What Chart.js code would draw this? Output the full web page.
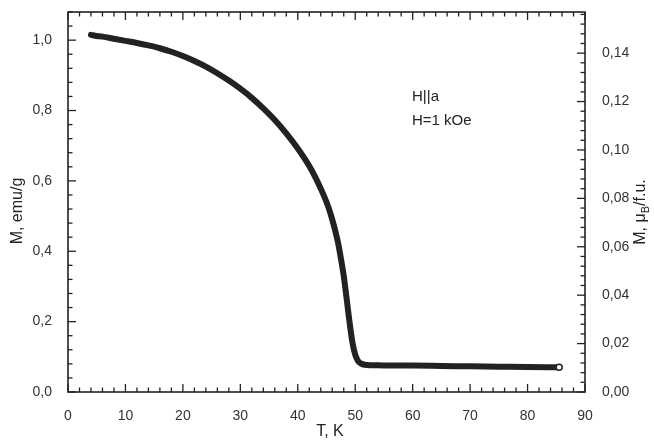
<!DOCTYPE html>
<html>
<head>
<meta charset="utf-8">
<script src="https://cdn.jsdelivr.net/npm/chart.js@4/dist/chart.umd.min.js"></script>
<style>
  html, body { margin: 0; padding: 0; background: #fff; }
  #wrap { width: 654px; height: 443px; position: relative; }
</style>
</head>
<body>
<div id="wrap"><canvas id="magChart" width="654" height="443"></canvas></div>
<script>
// M(T) curve, H||a, H = 1 kOe
const temps = [4.0, 5, 6, 8, 10, 12, 14, 16, 18, 20, 22, 24, 26, 28, 30, 32, 34, 36, 38, 40,
  41, 42, 43, 44, 45, 45.5, 46, 46.5, 47, 47.5, 48, 48.5, 49, 49.5, 50, 50.5, 51, 52, 54, 56,
  60, 65, 70, 75, 80, 85.5];
const moment = [1.015, 1.012, 1.010, 1.004, 0.998, 0.992, 0.985, 0.977, 0.967, 0.955, 0.941,
  0.925, 0.906, 0.885, 0.862, 0.836, 0.806, 0.773, 0.735, 0.692,
  0.668, 0.642, 0.612, 0.578, 0.540, 0.517, 0.490, 0.460, 0.425, 0.380, 0.330, 0.266, 0.200,
  0.142, 0.106, 0.088, 0.081, 0.077, 0.076, 0.075,
  0.075, 0.074, 0.073, 0.072, 0.071, 0.070];

const xTicks = [0, 10, 20, 30, 40, 50, 60, 70, 80, 90];
const leftTicks = [0, 0.2, 0.4, 0.6, 0.8, 1.0];
const rightTicks = [0, 0.02, 0.04, 0.06, 0.08, 0.10, 0.12, 0.14];

const ink = '#222';
const label = '#333';
const font = 'Liberation Sans, Arial, sans-serif';
const comma = (v, d) => v.toFixed(d).replace('.', ',');

const points = temps.map((t, i) => ({x: t, y: moment[i]}));

// frame + inward ticks on all four sides, plus axis titles
const framePlugin = {
  id: 'frame',
  afterDraw(chart) {
    const {ctx, chartArea: a, scales} = chart;
    ctx.save();
    ctx.strokeStyle = ink;
    ctx.lineWidth = 1.6;
    ctx.strokeRect(a.left, a.top, a.right - a.left, a.bottom - a.top);
    ctx.lineWidth = 1.3;
    const tick = (x1, y1, x2, y2) => { ctx.beginPath(); ctx.moveTo(x1, y1); ctx.lineTo(x2, y2); ctx.stroke(); };
    for (let v = 0; v <= 90.001; v += 2) {
      const px = scales.x.getPixelForValue(v);
      const len = Math.abs(v % 10) < 0.01 ? 8 : 4.5;
      tick(px, a.bottom, px, a.bottom - len);
      tick(px, a.top, px, a.top + len);
    }
    for (let i = 0; i * 0.04 <= 1.08; i++) {
      const py = scales.y.getPixelForValue(i * 0.04);
      const len = i % 5 === 0 ? 8 : 4.5;
      tick(a.left, py, a.left + len, py);
    }
    for (let i = 0; i * 0.004 <= 0.157; i++) {
      const py = scales.y1.getPixelForValue(i * 0.004);
      const len = i % 5 === 0 ? 8 : 4.5;
      tick(a.right, py, a.right - len, py);
    }

    ctx.fillStyle = ink;
    ctx.font = '16px ' + font;
    ctx.textAlign = 'center';
    ctx.textBaseline = 'middle';
    ctx.fillText('T, K', 330, 432);

    ctx.save();
    ctx.translate(18, 211);
    ctx.rotate(-Math.PI / 2);
    ctx.fillText('M, emu/g', 0, 0);
    ctx.restore();

    // right title with subscript B
    ctx.save();
    ctx.translate(641, 212);
    ctx.rotate(-Math.PI / 2);
    ctx.textAlign = 'left';
    const p1 = 'M, \u03bc', p3 = '/f.u.';
    ctx.font = '16px ' + font;
    const w1 = ctx.measureText(p1).width, w3 = ctx.measureText(p3).width;
    ctx.font = '11px ' + font;
    const w2 = ctx.measureText('B').width;
    let x0 = -(w1 + w2 + w3) / 2;
    ctx.font = '16px ' + font;
    ctx.fillText(p1, x0, 0);
    ctx.font = '11px ' + font;
    ctx.fillText('B', x0 + w1, 5);
    ctx.font = '16px ' + font;
    ctx.fillText(p3, x0 + w1 + w2, 0);
    ctx.restore();

    ctx.font = '15px ' + font;
    ctx.textAlign = 'left';
    ctx.fillText('H||a', 412, 97);
    ctx.fillText('H=1 kOe', 412, 121);
    ctx.restore();
  }
};

const fixV = w => s => { s.width = w; s.paddingTop = 0; s.paddingBottom = 0; };

new Chart(document.getElementById('magChart'), {
  type: 'line',
  data: {
    datasets: [{
      data: points,
      borderColor: ink,
      borderWidth: 6,
      borderCapStyle: 'round',
      borderJoinStyle: 'round',
      cubicInterpolationMode: 'monotone',
      pointRadius: ctx => ctx.dataIndex === temps.length - 1 ? 3 : 0,
      pointBackgroundColor: '#fff',
      pointBorderColor: ink,
      pointBorderWidth: 1.5,
      fill: false,
      yAxisID: 'y'
    }]
  },
  options: {
    responsive: false,
    animation: false,
    events: [],
    layout: {padding: {top: 12, left: 0, right: 0, bottom: 0}},
    plugins: {legend: {display: false}, tooltip: {enabled: false}},
    scales: {
      x: {
        type: 'linear', min: 0, max: 90,
        afterFit: s => { s.height = 51; s.paddingLeft = 0; s.paddingRight = 0; },
        afterBuildTicks: s => { s.ticks = xTicks.map(v => ({value: v})); },
        grid: {display: false}, border: {display: false},
        ticks: {color: label, font: {family: font, size: 14}, padding: 8, maxRotation: 0}
      },
      y: {
        position: 'left', min: 0, max: 1.08,
        afterFit: fixV(68),
        afterBuildTicks: s => { s.ticks = leftTicks.map(v => ({value: v})); },
        grid: {display: false}, border: {display: false},
        ticks: {color: label, font: {family: font, size: 14}, padding: 8, callback: v => comma(v, 1)}
      },
      y1: {
        position: 'right', min: 0, max: 0.157,
        afterFit: fixV(69),
        afterBuildTicks: s => { s.ticks = rightTicks.map(v => ({value: v})); },
        grid: {display: false}, border: {display: false},
        ticks: {color: label, font: {family: font, size: 14}, padding: 9, callback: v => comma(v, 2)}
      }
    }
  },
  plugins: [framePlugin]
});
</script>
</body>
</html>
